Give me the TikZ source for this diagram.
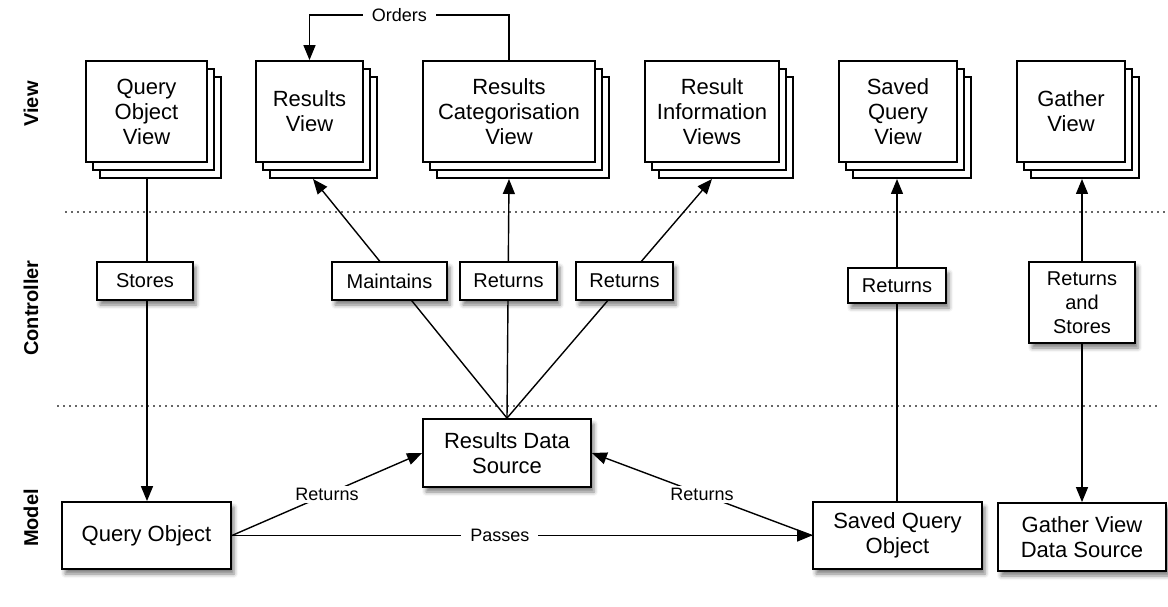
\documentclass[tikz,border=0pt]{standalone}
\usepackage{fontspec}
\setmainfont{Liberation Sans}
\usetikzlibrary{arrows.meta,shadows,shadows.blur,backgrounds}
\begin{document}
\begin{tikzpicture}[x=1pt,y=-1pt,
  boxline/.style={draw=black, line width=1.8pt, fill=white, align=center, inner sep=0pt},
  viewbox/.style={boxline, minimum height=101, font=\fontsize{22}{25}\selectfont,
    copy shadow={shadow xshift=14pt, shadow yshift=-16pt, draw=black, line width=1.8pt, fill=white},
    copy shadow={shadow xshift=7pt, shadow yshift=-8pt, draw=black, line width=1.8pt, fill=white}},
  softshadow/.style={blur shadow={shadow xshift=3pt, shadow yshift=-5pt, shadow blur radius=4pt, shadow opacity=50}},
  ctrlbox/.style={boxline, softshadow, minimum height=38, font=\fontsize{20}{24}\selectfont},
  modelbox/.style={boxline, softshadow, font=\fontsize{22}{25}\selectfont},
  layer/.style={rotate=90, font=\bfseries\fontsize{20}{24}\selectfont},
  lbl/.style={fill=white, inner xsep=9pt, inner ysep=2pt, font=\fontsize{18}{21}\selectfont},
  conn/.style={draw=black, line width=1.4pt},
  tip/.tip={Triangle[length=15pt, width=12pt]},
  sep/.style={draw=black!60, line width=1.3pt, dash pattern=on 2pt off 4pt}]
\useasboundingbox (0,0) rectangle (1168,607);

% layer titles
\node[layer] (lv) at (31,104) {View};
\node[layer] (lc) at (31,308) {Controller};
\node[layer] (lm) at (31,518) {Model};

% view layer
\node[viewbox, minimum width=121] (qov) at (146.5,111.5) {Query\\Object\\View};
\node[viewbox, minimum width=107] (rv)  at (309.5,111.5) {Results\\View};
\node[viewbox, minimum width=172] (rcv) at (509,111.5) {Results\\Categorisation\\View};
\node[viewbox, minimum width=134] (riv) at (712,111.5) {Result\\Information\\Views};
\node[viewbox, minimum width=118] (sqv) at (898,111.5) {Saved\\Query\\View};
\node[viewbox, minimum width=108] (gv)  at (1071,111.5) {Gather\\View};

% bottom edges of the stacked view boxes
\coordinate (qovb) at (147,179);
\coordinate (rvb)  at (313,179);
\coordinate (rcvb) at (509,179);
\coordinate (rivb) at (712,179);
\coordinate (sqvb) at (897,179);
\coordinate (gvb)  at (1082,179);

% controller layer
\node[ctrlbox, minimum width=96]  (stores) at (145,281) {Stores};
\node[ctrlbox, minimum width=115] (maint)  at (389.5,281) {Maintains};
\node[ctrlbox, minimum width=97]  (ret1)   at (508.5,281) {Returns};
\node[ctrlbox, minimum width=97]  (ret2)   at (624.5,281) {Returns};
\node[ctrlbox, minimum width=98, minimum height=35] (ret3) at (897,285.5) {Returns};
\node[ctrlbox, minimum width=106, minimum height=81] (ras) at (1082,302.5) {Returns\\and\\Stores};

% model layer
\node[modelbox, minimum width=169, minimum height=67] (qo)   at (146.5,535.5) {Query Object};
\node[modelbox, minimum width=168, minimum height=68] (rds)  at (507,453) {Results Data\\Source};
\node[modelbox, minimum width=169, minimum height=67] (sqo)  at (897.5,535.5) {Saved Query\\Object};
\node[modelbox, minimum width=168, minimum height=68] (gvds) at (1082,537) {Gather View\\Data Source};

\begin{scope}[on background layer]
  % layer separators
  \draw[sep] (65,212) -- (1165,212);
  \draw[sep] (57,406) -- (1160,406);

  % connectors
  \draw[conn, -tip] (qovb) -- (qovb |- qo.north);
  \draw[conn, -tip] (rds.north) -- (rvb);
  \draw[conn, -tip] (rds.north) -- (rcvb);
  \draw[conn, -tip] (rds.north) -- (rivb);
  \draw[conn, -tip] (sqo.north -| sqvb) -- (sqvb);
  \draw[conn, tip-tip] (gvds.north) -- (gvb);
  \draw[conn, -tip] (rcv.north) -- ++(0,-45) -| node[lbl, pos=0.275] {Orders} (rv.north);
  \draw[conn, -tip] (qo.east) -- node[lbl] {Returns} (rds.west);
  \draw[conn, -tip] (sqo.west) -- node[lbl] {Returns} (rds.east);
  \draw[conn, -tip] (qo.east) -- node[lbl, pos=0.462] {Passes} (sqo.west);
\end{scope}
\end{tikzpicture}
\end{document}
